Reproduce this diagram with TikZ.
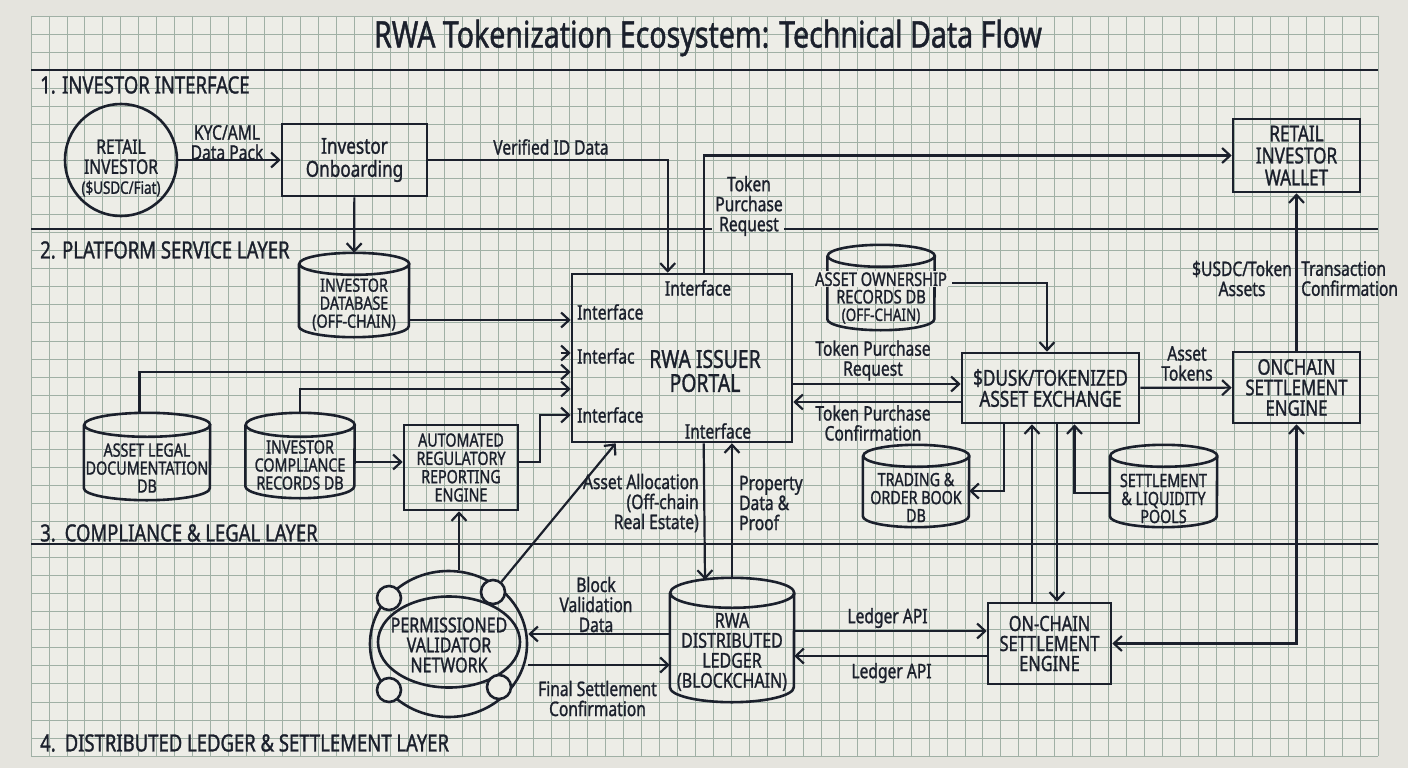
\documentclass[tikz,border=0pt]{standalone}
\usepackage{fontspec}
\setmainfont{Noto Sans}[FakeStretch=0.78,FakeBold=1.2]
\usetikzlibrary{arrows.meta,shapes.geometric}

\definecolor{ink}{RGB}{27,32,44}
\definecolor{paper}{RGB}{237,237,231}
\definecolor{backdrop}{RGB}{229,228,222}
\definecolor{gridgreen}{RGB}{160,176,165}

\newcommand{\setfs}[2]{\fontsize{#1}{#2}\selectfont}
% cylinder outline round an invisible node: name, half width, end radius
\newcommand{\dbdraw}[3]{%
  \draw[dbline] ([yshift=-#3]#1.north west) -- ([yshift=#3]#1.south west)
    arc[start angle=180,end angle=360,x radius=#2,y radius=#3]
    -- ([yshift=-#3]#1.north east)
    arc[start angle=0,end angle=360,x radius=#2,y radius=#3];}

\begin{document}
\begin{tikzpicture}[x=1pt,y=-1pt,
  flow/.style={draw=ink,line width=2.2pt,-{Straight Barb[length=8pt,width=15pt]}},
  twoway/.style={flow,{Straight Barb[length=8pt,width=15pt]}-{Straight Barb[length=8pt,width=15pt]}},
  box/.style={draw=ink,line width=2.6pt,text=ink,align=center,inner sep=0pt},
  db/.style={inner sep=0pt},
  dbline/.style={draw=ink,line width=2.6pt},
  txt/.style={text=ink,align=center,inner sep=0pt,font=\setfs{20}{20}},
  dbtxt/.style={txt,font=\setfs{18.3}{18}},
  layertitle/.style={text=ink,anchor=west,inner sep=0pt,font=\setfs{23.7}{24}},
  layerline/.style={draw=ink,line width=2pt},
  gridline/.style={draw=gridgreen,line width=0.8pt}]

% Backdrop and grid paper
\useasboundingbox (0,0) rectangle (1408,768);
\fill[backdrop] (0,0) rectangle (1408,768);
\fill[paper] (31,16) rectangle (1378,756);
\foreach \i in {0,...,75} \draw[gridline] ({31+17.96*\i},16) -- ({31+17.96*\i},756);
\foreach \j in {0,...,41} \draw[gridline] (31,{16+18.05*\j}) -- (1378,{16+18.05*\j});

% Layer separators
\draw[layerline] (31,70) -- (1378,70);
\draw[layerline] (31,229) -- (712,229);
\draw[layerline] (784,229) -- (1378,229);
\draw[layerline] (31,544) -- (1378,544);

% Title and layer names
\node[txt,font=\setfs{36.6}{38}] (title) at (708,38) {RWA Tokenization Ecosystem: Technical Data Flow};
\node[layertitle] (layer1) at (40,85) {1. INVESTOR INTERFACE};
\node[layertitle] (layer2) at (40,250) {2. PLATFORM SERVICE LAYER};
\node[layertitle] (layer3) at (40,533) {3.\hspace{9pt}COMPLIANCE \& LEGAL LAYER};
\node[layertitle] (layer4) at (40,743) {4.\hspace{9pt}DISTRIBUTED LEDGER \& SETTLEMENT LAYER};

% Layer 1: investor interface
\node[box,circle,minimum size=112pt] (investor) at (121,160) {};
\node[txt] (investortext) at (121,168) {RETAIL\\INVESTOR\\{\setfs{17.2}{20}(\$USDC/Fiat)}};
\node[box,minimum width=145pt,minimum height=72pt,font=\setfs{22}{23}] (onboard) at (354.5,160) {Investor\\Onboarding};
\node[box,minimum width=127pt,minimum height=73pt,font=\setfs{22}{22}] (wallet) at (1296.5,155.5) {RETAIL\\INVESTOR\\WALLET};

% Layer 2: platform services
\node[db,minimum width=110pt,minimum height=84pt] (invdb) at (354,295) {};
\dbdraw{invdb}{55pt}{11pt}
\node[dbtxt] (invdbtext) at (354,304.5) {INVESTOR\\DATABASE\\(OFF-CHAIN)};
\node[box,minimum width=220pt,minimum height=168pt] (portal) at (682,358) {};
\node[txt,font=\setfs{24.8}{24}] (portaltext) at (705,371) {RWA ISSUER\\PORTAL};
\node[txt] (ifnorth) at (698,288) {Interface};
\node[txt,anchor=west] (ifwest1) at (577,312) {Interface};
\node[txt,anchor=west] (ifwest2) at (577,356) {Interfac};
\node[txt,anchor=west] (ifwest3) at (577,415) {Interface};
\node[txt] (ifsouth) at (718,431) {Interface};
\node[db,minimum width=107pt,minimum height=85pt] (owndb) at (881,287.5) {};
\dbdraw{owndb}{53.5pt}{11pt}
\node[dbtxt,font=\setfs{18.8}{17.5}] (owndbtext) at (881,297.5) {{\fboxsep=1pt\colorbox{paper}{ASSET OWNERSHIP}}\\RECORDS DB\\{\setfs{17.2}{17.5}(OFF-CHAIN)}};
\node[box,minimum width=177pt,minimum height=70pt,font=\setfs{22}{21}] (exchange) at (1050.5,388) {\$DUSK/TOKENIZED\\ASSET EXCHANGE};
\node[box,minimum width=127pt,minimum height=71pt,font=\setfs{21.5}{20.5}] (onchain) at (1296.5,387.5) {ONCHAIN\\SETTLEMENT\\ENGINE};

% Layer 3: compliance and legal
\node[db,minimum width=126pt,minimum height=87pt] (legaldb) at (147,456.5) {};
\dbdraw{legaldb}{63pt}{12pt}
\node[dbtxt] (legaldbtext) at (147,468) {ASSET LEGAL\\DOCUMENTATION\\DB};
\node[db,minimum width=109pt,minimum height=85pt] (compdb) at (300,455.5) {};
\dbdraw{compdb}{54.5pt}{12pt}
\node[dbtxt] (compdbtext) at (300,465) {INVESTOR\\COMPLIANCE\\RECORDS DB};
\node[box,minimum width=114pt,minimum height=85pt,font=\setfs{18.3}{18.3}] (regeng) at (461,467.5) {AUTOMATED\\REGULATORY\\REPORTING\\ENGINE};
\node[db,minimum width=106pt,minimum height=82pt] (tradedb) at (916,486) {};
\dbdraw{tradedb}{53pt}{11pt}
\node[dbtxt] (tradedbtext) at (916,497.5) {TRADING \&\\ORDER BOOK\\DB};
\node[db,minimum width=107pt,minimum height=82pt] (pooldb) at (1163.5,486) {};
\dbdraw{pooldb}{53.5pt}{11pt}
\node[dbtxt] (pooldbtext) at (1163.5,498.5) {SETTLEMENT\\\& LIQUIDITY\\POOLS};

% Layer 4: ledger and settlement
\node[box,ellipse,minimum width=157pt,minimum height=146pt] (vnet) at (448.5,644) {};
\node[box,ellipse,minimum width=142pt,minimum height=91pt] (vcore) at (449,642) {};
\node[txt,font=\setfs{20.5}{20}] (vnettext) at (449,645) {PERMISSIONED\\VALIDATOR\\NETWORK};
\node[box,circle,fill=paper,minimum size=24pt] (v1) at (389,598) {};
\node[box,circle,fill=paper,minimum size=24pt] (v2) at (493,592) {};
\node[box,circle,fill=paper,minimum size=24pt] (v3) at (389,690) {};
\node[box,circle,fill=paper,minimum size=24pt] (v4) at (499,687) {};
\node[db,minimum width=124pt,minimum height=124pt] (ledger) at (732,640) {};
\dbdraw{ledger}{62pt}{15pt}
\node[txt,font=\setfs{20.5}{20}] (ledgertext) at (732,652) {RWA\\DISTRIBUTED\\LEDGER\\(BLOCKCHAIN)};
\node[box,minimum width=123pt,minimum height=81pt,font=\setfs{21}{20}] (settle) at (1049.5,643.5) {ON-CHAIN\\SETTLEMENT\\ENGINE};

% Connectors
\draw[flow] (investor) -- (onboard);
\draw[flow] (onboard.east) -| ([xshift=97pt]portal.north west);
\draw[flow] ([xshift=133pt]portal.north west) |- (wallet.west);
\draw[flow] (onboard) -- (invdb);
\draw[flow] ([yshift=-25pt]invdb.east) coordinate (a1) -- (a1 -| portal.west);
\draw[flow] ([xshift=-10pt,yshift=5pt]portal.west) -- ([yshift=5pt]portal.west);
\draw[flow] ([xshift=-7.5pt]legaldb.north) |- ([yshift=-14pt]portal.west);
\draw[flow] (compdb.north) |- ([yshift=-31pt]portal.west);
\draw[flow] ([yshift=-6.5pt]compdb.east) coordinate (a2) -- (a2 -| regeng.west);
\draw[flow] ([yshift=5.5pt]regeng.east) -- ++(21,0) |- ([yshift=-57pt]portal.west);
\draw[flow] ([xshift=10.5pt]vnet.north) -- ([xshift=-2pt]regeng.south);
\draw[flow] (v2) -- ([xshift=45pt]portal.south west);
\draw[flow] ([xshift=133pt]portal.south west) -- ([xshift=-27pt,yshift=-2pt]ledger.north);
\draw[flow] (ledger.north) -- (ledger.north |- portal.south);
\draw[flow] ([yshift=6pt]ledger.west) coordinate (a3) -- (a3 -| vnet.east);
\path ([yshift=-25pt]ledger.west) coordinate (a4);
\draw[flow] (a4 -| vnet.east) -- (a4);
\path ([yshift=12.5pt]settle.west) coordinate (a5);
\draw[flow] (a5 -| ledger.east) -- (a5);
\draw[flow] ([yshift=-12.5pt]settle.west) coordinate (a6) -- (a6 -| ledger.east);
\path ([yshift=4pt]exchange.west) coordinate (a7);
\draw[flow] (a7 -| portal.east) -- (a7);
\draw[flow] ([yshift=-14pt]exchange.west) coordinate (a8) -- (a8 -| portal.east);
\draw[flow] ([xshift=71pt,yshift=4.5pt]owndb.center) -| ([xshift=-3.5pt]exchange.north);
\draw[flow] (exchange) -- (onchain);
\draw[flow] (onchain) -- (wallet);
\draw[flow] ([xshift=-46.5pt]exchange.south) |- ([yshift=-5pt]tradedb.east);
\draw[flow] ([yshift=-7pt]pooldb.west) -| ([xshift=24pt]exchange.south);
\draw[flow] ([xshift=-17.5pt]settle.north) coordinate (a9) -- (a9 |- exchange.south);
\draw[flow] ([xshift=6.5pt]exchange.south) coordinate (a10) -- (a10 |- settle.north);
\draw[twoway] (settle.east) -| (onchain.south);

% Connector labels
\node[txt] (kyc) at (227,142.5) {KYC/AML\\Data Pack};
\node[txt] (verified) at (551,147) {Verified ID Data};
\node[txt] (tpr1) at (749,206) {Token\\Purchase\\Request};
\node[txt] (tpr2) at (873,360.5) {Token Purchase\\Request};
\node[txt] (tpc) at (873,423) {Token Purchase\\Confirmation};
\node[txt] (assettok) at (1187,363.5) {Asset\\Tokens};
\node[txt] (usdc) at (1242,278.5) {\$USDC/Token\\Assets};
\node[txt,anchor=west,align=left] (txconf) at (1301,278.5) {Transaction\\Confirmation};
\node[txt,anchor=east,align=right] (alloc) at (699,503) {Asset Allocation\\(Off-chain\\Real Estate)};
\node[txt,anchor=west,align=left] (proof) at (739,503) {Property\\Data \&\\Proof};
\node[txt] (blockval) at (596,604.5) {Block\\Validation\\Data};
\node[txt] (finalset) at (597.5,698.5) {Final Settlement\\Confirmation};
\node[txt] (api1) at (887.5,618) {Ledger API};
\node[txt] (api2) at (891.5,673) {Ledger API};

\end{tikzpicture}
\end{document}
